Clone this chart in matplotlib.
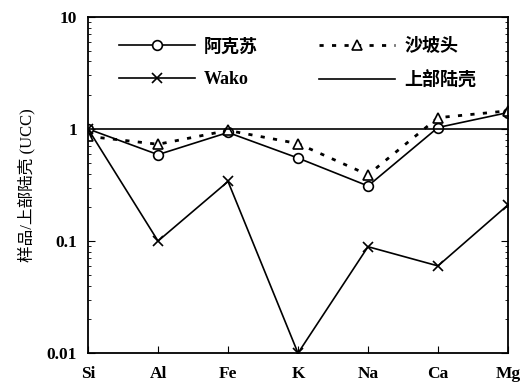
import matplotlib
matplotlib.use("Agg")
import matplotlib.pyplot as plt
from matplotlib.ticker import LogLocator, NullFormatter, FixedFormatter, FixedLocator

plt.rcParams['font.family'] = ['Liberation Serif', 'Noto Sans CJK SC']
plt.rcParams['font.weight'] = 'bold'

elements = ["Si", "Al", "Fe", "K", "Na", "Ca", "Mg"]
akesu = [1.0, 0.59, 0.93, 0.55, 0.31, 1.03, 1.40]
shapotou = [0.86, 0.73, 0.97, 0.74, 0.39, 1.26, 1.45]
wako = [1.0, 0.10, 0.34, 0.010, 0.089, 0.060, 0.21]
ucc = [1.0] * len(elements)

fig = plt.figure(figsize=(5.21, 3.83), dpi=100)
ax = fig.add_axes([0.169, 0.078, 0.806, 0.878])
x = range(len(elements))

l1, = ax.plot(x, akesu, "-", color="black", lw=1.2, marker="o", ms=7,
              mfc="white", mec="black", mew=1.2, label="阿克苏")
l2, = ax.plot(x, shapotou, linestyle=(0, (1.5, 3)), color="black", lw=2.0,
              marker="^", ms=7, mfc="white", mec="black", mew=1.2, label="沙坡头")
l3, = ax.plot(x, wako, "-", color="black", lw=1.2, marker="x", ms=7,
              mew=1.2, label="Wako")
l4, = ax.plot(x, ucc, "-", color="black", lw=1.2, label="上部陆壳")

ax.set_yscale("log")
ax.set_ylim(0.01, 10)
ax.set_xlim(0, len(elements) - 1)
ax.set_xticks(list(x))
ax.set_xticklabels(elements, fontsize=12.5, fontweight="bold")
ax.yaxis.set_major_locator(FixedLocator([0.01, 0.1, 1, 10]))
ax.yaxis.set_major_formatter(FixedFormatter(["0.01", "0.1", "1", "10"]))
ax.yaxis.set_minor_locator(LogLocator(base=10, subs=range(2, 10)))
ax.yaxis.set_minor_formatter(NullFormatter())
ax.tick_params(axis="y", which="both", direction="in", right=True, labelsize=12.5)
ax.tick_params(axis="y", which="major", length=5, pad=8)
ax.tick_params(axis="y", which="minor", length=2.5)
ax.tick_params(axis="x", direction="in", length=5, pad=9)
for s in ax.spines.values():
    s.set_linewidth(1.3)

ax.set_ylabel("样品/上部陆壳 (UCC)", fontsize=12, labelpad=8)

ax.legend([l1, l3, l2, l4], ["阿克苏", "Wako", "沙坡头", "上部陆壳"], ncol=2,
          frameon=False, loc="upper left", bbox_to_anchor=(0.035, 0.985),
          handlelength=4.2, handletextpad=0.5, columnspacing=3.4,
          labelspacing=0.85, fontsize=13)

fig.savefig("out.png", dpi=100)
